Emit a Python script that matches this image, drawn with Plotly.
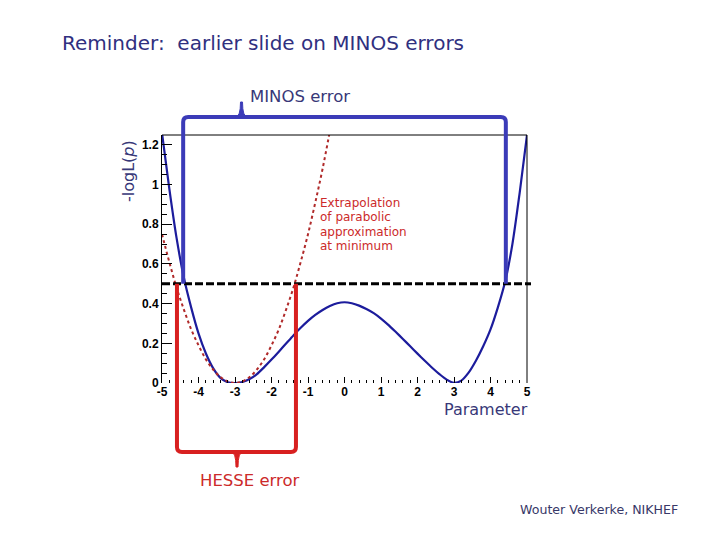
import plotly.graph_objects as go

# ---------------- data ----------------
curve_x = [-5.0, -4.8, -4.6, -4.4, -4.2, -4.0, -3.8, -3.6, -3.4, -3.2, -3.0,
           -2.8, -2.6, -2.4, -2.2, -2.0, -1.8, -1.6, -1.4, -1.2, -1.0, -0.8,
           -0.6, -0.4, -0.2, 0.0, 0.2, 0.4, 0.6, 0.8, 1.0, 1.2, 1.4, 1.6, 1.8,
           2.0, 2.2, 2.4, 2.6, 2.8, 3.0, 3.2, 3.4, 3.6, 3.8, 4.0, 4.2, 4.4,
           4.6, 4.8, 5.0]
curve_y = [1.26, 0.98, 0.73, 0.53, 0.38, 0.25, 0.15, 0.075, 0.026, 0.004, 0.0,
           0.005, 0.02, 0.045, 0.08, 0.118, 0.158, 0.199, 0.24, 0.278, 0.313, 0.343,
           0.368, 0.388, 0.402, 0.407, 0.402, 0.39, 0.373, 0.352, 0.325, 0.293, 0.258, 0.222, 0.185,
           0.148, 0.112, 0.077, 0.045, 0.017, 0.001, 0.012, 0.052, 0.112, 0.185, 0.27, 0.38, 0.51,
           0.70, 0.96, 1.25]

parab_x = [-5.0, -4.8, -4.6, -4.4, -4.2, -4.0, -3.8, -3.6, -3.4, -3.2, -3.0,
           -2.8, -2.6, -2.4, -2.2, -2.0, -1.8, -1.6, -1.4, -1.2, -1.0, -0.8,
           -0.6, -0.4]
parab_y = [0.75, 0.61, 0.48, 0.37, 0.27, 0.19, 0.12, 0.068, 0.03, 0.0075, 0.0,
           0.0075, 0.03, 0.068, 0.12, 0.19, 0.27, 0.37, 0.48, 0.61, 0.75, 0.91,
           1.08, 1.27]

up_level = 0.5
minos_interval = [-4.42, 4.42]
hesse_interval = [-4.59, -1.33]

x_tick_vals = [-5, -4, -3, -2, -1, 0, 1, 2, 3, 4, 5]
x_tick_text = ["-5", "-4", "-3", "-2", "-1", "0", "1", "2", "3", "4", "5"]
y_tick_vals = [0, 0.2, 0.4, 0.6, 0.8, 1.0, 1.2]
y_tick_text = ["0", "0.2", "0.4", "0.6", "0.8", "1", "1.2"]

# ---------------- geometry ----------------
XMIN, XMAX = -5, 5
YMIN, YMAX = 0, 1.25
OFF = 8                      # page body margin
W, H = 720 - 2 * OFF, 540 - 2 * OFF
PL, PT = 162, 135            # plot-area top-left in page pixels
PW, PH = 365, 248
L, T = PL - OFF, PT - OFF
R, B = W - L - PW, H - T - PH


def fx(x):  # data -> paper
    return (x - XMIN) / (XMAX - XMIN)


def fy(y):
    return (y - YMIN) / (YMAX - YMIN)


def px(p):  # page pixel -> paper
    return (p - PL) / PW


def py(p):
    return (PT + PH - p) / PH


NAVY = "#30307f"
NAVY2 = "#383878"
RED_TXT = "#cc2a2a"
BLUE_BR = "#3b3bb8"
RED_BR = "#d82020"

fig = go.Figure()
fig.add_trace(go.Scatter(x=curve_x, y=curve_y, mode="lines",
                         line=dict(color="#1c1c9c", width=2.2, shape="spline", smoothing=0.8),
                         hoverinfo="skip", showlegend=False))
fig.add_trace(go.Scatter(x=parab_x, y=parab_y, mode="lines",
                         line=dict(color="#b02a2a", width=2, dash="dot", shape="spline"),
                         hoverinfo="skip", showlegend=False))
fig.add_trace(go.Scatter(x=[XMIN, XMAX], y=[up_level, up_level], mode="lines",
                         line=dict(color="black", width=3, dash="8px,3px"),
                         hoverinfo="skip", showlegend=False))

shapes = []
shapes.append(dict(type="line", xref="paper", yref="paper", x0=0, x1=1, y0=1, y1=1,
                   line=dict(color="black", width=1)))
shapes.append(dict(type="line", xref="paper", yref="paper", x0=1, x1=1, y0=0, y1=1,
                   line=dict(color="black", width=1)))
shapes.append(dict(type="line", xref="paper", yref="paper", x0=1, x1=px(531),
                   y0=fy(up_level), y1=fy(up_level), line=dict(color="black", width=3)))

rx, ry = 5 / PW, 5 / PH

# MINOS bracket (blue, above)
x0, x1 = fx(minos_interval[0]), fx(minos_interval[1])
yb, yt = fy(up_level), py(117)
shapes.append(dict(type="path", xref="paper", yref="paper",
                   path=f"M {x0},{yb} L {x0},{yt-ry} Q {x0},{yt} {x0+rx},{yt} "
                        f"L {x1-rx},{yt} Q {x1},{yt} {x1},{yt-ry} L {x1},{yb}",
                   line=dict(color=BLUE_BR, width=4)))
cx = px(241.5)
shapes.append(dict(type="path", xref="paper", yref="paper",
                   path=f"M {cx-6/PW},{yt} Q {cx-1/PW},{yt} {cx-1/PW},{yt+15/PH} "
                        f"L {cx+1/PW},{yt+15/PH} Q {cx+1/PW},{yt} {cx+6/PW},{yt} Z",
                   fillcolor=BLUE_BR, line=dict(color=BLUE_BR, width=1)))

# HESSE bracket (red, below)
x0, x1 = fx(hesse_interval[0]), fx(hesse_interval[1])
yb, ybot = fy(up_level), py(452)
shapes.append(dict(type="path", xref="paper", yref="paper",
                   path=f"M {x0},{yb} L {x0},{ybot+ry} Q {x0},{ybot} {x0+rx},{ybot} "
                        f"L {x1-rx},{ybot} Q {x1},{ybot} {x1},{ybot+ry} L {x1},{yb}",
                   line=dict(color=RED_BR, width=4)))
cx = px(237)
shapes.append(dict(type="path", xref="paper", yref="paper",
                   path=f"M {cx-6/PW},{ybot} Q {cx-1/PW},{ybot} {cx-1/PW},{ybot-15/PH} "
                        f"L {cx+1/PW},{ybot-15/PH} Q {cx+1/PW},{ybot} {cx+6/PW},{ybot} Z",
                   fillcolor=RED_BR, line=dict(color=RED_BR, width=1)))

TXT = "DejaVu Sans"
annotations = [
    dict(x=px(60), y=py(43), xanchor="left", yanchor="middle",
         text="Reminder:  earlier slide on MINOS errors",
         font=dict(family=TXT, size=20, color=NAVY)),
    dict(x=px(248), y=py(97), xanchor="left", yanchor="middle", text="MINOS error",
         font=dict(family=TXT, size=16.5, color=NAVY2)),
    dict(x=px(128), y=py(171), xanchor="center", yanchor="middle", textangle=-90,
         text="-logL(<i>p</i>)", font=dict(family=TXT, size=16, color=NAVY2)),
    dict(x=px(530), y=py(409), xanchor="right", yanchor="middle", text="Parameter",
         font=dict(family=TXT, size=16, color=NAVY2)),
    dict(x=px(198), y=py(480), xanchor="left", yanchor="middle", text="HESSE error",
         font=dict(family=TXT, size=16.5, color=RED_TXT)),
    dict(x=px(518), y=py(509), xanchor="left", yanchor="middle", text="Wouter Verkerke, NIKHEF",
         font=dict(family=TXT, size=12.6, color="#383868")),
]
extrap_lines = ["Extrapolation", "of parabolic", "approximation", "at minimum"]
for i, line in enumerate(extrap_lines):
    annotations.append(dict(x=px(318), y=py(203 + 14.3 * i), xanchor="left", yanchor="middle",
                            text=line, font=dict(family=TXT, size=12, color=RED_TXT)))
for a in annotations:
    a.update(xref="paper", yref="paper", showarrow=False)

tickfont = dict(family="Liberation Sans", size=12, color="black", weight="bold")
fig.update_layout(
    width=W, height=H,
    margin=dict(l=L, r=R, t=T, b=B, pad=0),
    paper_bgcolor="white", plot_bgcolor="white",
    shapes=shapes, annotations=annotations,
    xaxis=dict(range=[XMIN, XMAX], tickvals=x_tick_vals, ticktext=x_tick_text,
               ticks="inside", ticklen=6,
               tickcolor="black", tickwidth=1, showline=False, zeroline=False,
               showgrid=False, tickfont=tickfont,
               minor=dict(dtick=0.2, ticks="inside", ticklen=3, tickcolor="black", showgrid=False)),
    yaxis=dict(range=[YMIN, YMAX], tickvals=y_tick_vals, ticktext=y_tick_text,
               ticks="inside", ticklen=10, tickcolor="black", tickwidth=1,
               showline=True, linecolor="black", linewidth=1, zeroline=False,
               showgrid=False, tickfont=tickfont,
               minor=dict(dtick=0.05, ticks="inside", ticklen=5, tickcolor="black", showgrid=False)),
)

fig.write_html("out.html")
